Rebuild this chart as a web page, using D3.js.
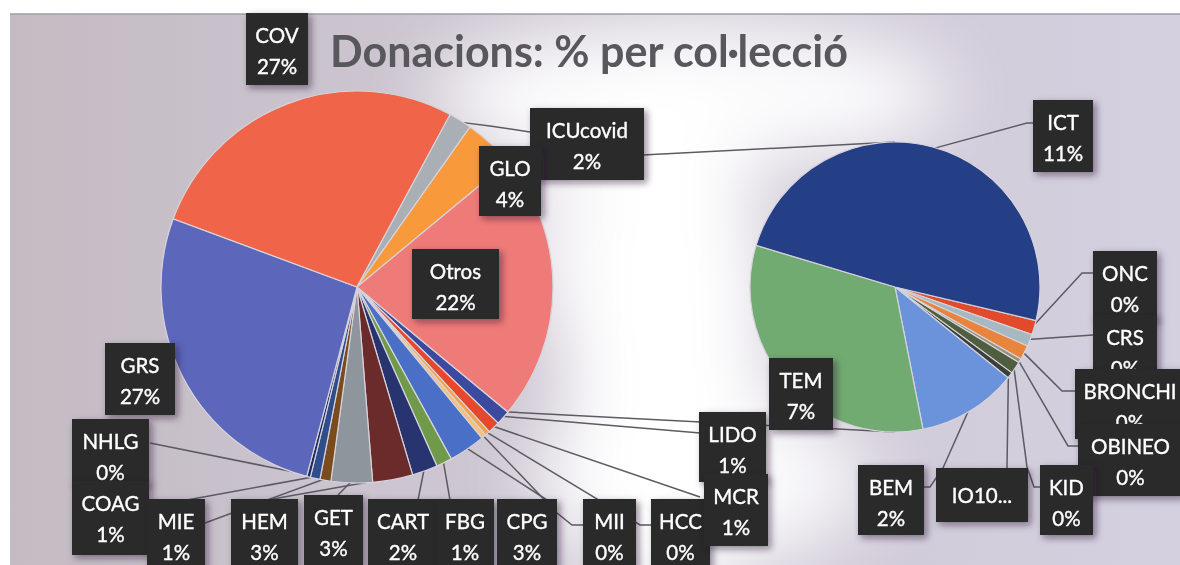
<!DOCTYPE html>
<html>
<head>
<meta charset="utf-8">
<script src="https://cdn.jsdelivr.net/npm/d3@7"></script>
<style>
  html, body { margin: 0; padding: 0; background: #fff; }
  svg { display: block; }
</style>
</head>
<body>
<svg id="chart" width="1180" height="565"></svg>
<script>
// ---- data (percent of all donations) ----
const mainNames  = ["LIDO", "MCR", "HCC", "MII", "CPG", "FBG", "CART", "HEM", "GET", "MIE", "COAG", "NHLG", "GRS", "COV", "ICUcovid", "GLO"];
const mainValues = [1.2, 1.0, 0.4, 0.4, 3.0, 1.3, 2.1, 3.3, 3.4, 0.9, 0.8, 0.3, 26.5, 27.2, 1.9, 4.2];
const mainColors = ["#3b4a9e", "#e5482c", "#f0a24a", "#f6c07a", "#4a6fc7", "#6f9a4a", "#28346f", "#6b2b2b", "#8e959c", "#7a4b1c", "#2f4d8c", "#1d2b5c", "#5c66ba", "#f0654a", "#a9afb5", "#f89a3c"];

const otherLabel = "Otros";
const otherColor = "#ef7b78";

const subNames  = ["ONC", "CRS", "BRONCHI", "OBINEO", "KID", "IO10...", "BEM", "TEM", "ICT"];
const subValues = [0.35, 0.3, 0.35, 0.1, 0.3, 0.15, 2.45, 7.2, 10.8];
const subColors = ["#e24a2c", "#a7b8c2", "#e8843c", "#9a9078", "#4e5e3e", "#3a3f3a", "#6a93dc", "#72ab72", "#243f86"];

const title = "Donacions: % per col\u00b7lecci\u00f3";

// ---- layout ----
const W = 1180, H = 565;
const main = { cx: 357, cy: 287, r: 196 };
const sub  = { cx: 895, cy: 287, r: 145, start: 103.4 * Math.PI / 180 };

// label boxes: [x, y, w, h] and leader points after the rim point
const labelLayout = {
  "COV":      { box: [246, 13, 62, 72] },
  "ICUcovid": { box: [530, 108, 114, 72], leader: [[490, 126], [530, 132]] },
  "GLO":      { box: [479, 146, 62, 70] },
  "Otros":    { box: [412, 249, 87, 70] },
  "GRS":      { box: [105, 343, 70, 72] },
  "NHLG":     { box: [72, 419, 77, 66], leader: [[150, 443]] },
  "COAG":     { box: [72, 481, 77, 74], leader: [[187, 500]] },
  "MIE":      { box: [147, 499, 58, 70], leader: [[232, 513], [205, 523]] },
  "HEM":      { box: [231, 499, 67, 70], leader: [[267, 500]] },
  "GET":      { box: [304, 495, 59, 72], leader: [[338, 495]] },
  "CART":     { box: [368, 499, 70, 70], leader: [[418, 500]] },
  "FBG":      { box: [436, 499, 58, 70], leader: [[450, 500]] },
  "CPG":      { box: [497, 499, 60, 70], leader: [[547, 500]] },
  "MII":      { box: [583, 499, 53, 70], leader: [[557, 513], [572, 525], [583, 525]] },
  "HCC":      { box: [651, 499, 59, 70], leader: [[640, 525], [651, 525]] },
  "LIDO":     { box: [699, 412, 67, 70], leader: [[700, 433]] },
  "MCR":      { box: [704, 474, 64, 72], leader: [[700, 497]] },
  "ICT":      { box: [1033, 100, 60, 72], leader: [[1027, 123], [1033, 123]] },
  "TEM":      { box: [769, 358, 64, 72] },
  "ONC":      { box: [1093, 251, 64, 70], leader: [[1082, 273], [1093, 273]] },
  "CRS":      { box: [1093, 315, 64, 70], leader: [[1093, 335]] },
  "BRONCHI":  { box: [1075, 369, 110, 70], leader: [[1062, 391], [1075, 391]] },
  "OBINEO":   { box: [1078, 424, 105, 72], leader: [[1068, 446], [1078, 446]] },
  "BEM":      { box: [858, 465, 66, 70], leader: [[943, 468], [930, 487], [924, 487]] },
  "IO10...":  { box: [936, 468, 92, 54], leader: [[1007, 468]], single: true },
  "KID":      { box: [1040, 465, 53, 70], leader: [[1027, 467], [1034, 487], [1040, 487]] }
};

const svg = d3.select("#chart");
const defs = svg.append("defs");

// ---- background (photographed slide) ----
const bg = defs.append("linearGradient").attr("id", "bgGrad").attr("x1", 0).attr("x2", 1).attr("y1", 0).attr("y2", 0);
bg.append("stop").attr("offset", "0%").attr("stop-color", "#c4bbc3");
bg.append("stop").attr("offset", "35%").attr("stop-color", "#cdc6d1");
bg.append("stop").attr("offset", "100%").attr("stop-color", "#d4d0df");

defs.append("filter").attr("id", "glowBlur")
  .attr("x", "-50%").attr("y", "-50%").attr("width", "200%").attr("height", "200%")
  .append("feGaussianBlur").attr("stdDeviation", 36);

defs.append("clipPath").attr("id", "slideClip")
  .append("rect").attr("x", 10).attr("y", 14).attr("width", W - 10).attr("height", H - 14);

const shadow = defs.append("filter").attr("id", "boxShadow")
  .attr("x", "-30%").attr("y", "-30%").attr("width", "160%").attr("height", "160%");
shadow.append("feDropShadow")
  .attr("dx", 3).attr("dy", 3).attr("stdDeviation", 3.5)
  .attr("flood-color", "#2a1430").attr("flood-opacity", 0.5);

svg.append("rect").attr("width", W).attr("height", H).attr("fill", "#ffffff");

const slide = svg.append("g").attr("clip-path", "url(#slideClip)");
slide.append("rect").attr("x", 10).attr("y", 14).attr("width", W - 10).attr("height", H - 14)
  .attr("fill", "url(#bgGrad)");

const glows = [
  { cx: 665, cy: 340, rx: 100, ry: 280, o: 1 },
  { cx: 690, cy: 95, rx: 260, ry: 70, o: 0.95 },
  { cx: 700, cy: 480, rx: 170, ry: 90, o: 0.85 },
  { cx: 565, cy: 210, rx: 60, ry: 120, o: 0.6 }
];
slide.append("g").attr("filter", "url(#glowBlur)")
  .selectAll("ellipse").data(glows).join("ellipse")
  .attr("cx", d => d.cx).attr("cy", d => d.cy)
  .attr("rx", d => d.rx).attr("ry", d => d.ry)
  .attr("fill", "#ffffff").attr("opacity", d => d.o);

svg.append("line").attr("x1", 10).attr("x2", W).attr("y1", 14).attr("y2", 14)
  .attr("stroke", "#a09ca6").attr("stroke-width", 1.5);

// ---- pie layouts ----
const mainData = mainNames.map((n, i) => ({ name: n, value: mainValues[i], color: mainColors[i] }));
const otherTotal = d3.sum(subValues);
mainData.push({ name: otherLabel, value: otherTotal, color: otherColor });
const total = d3.sum(mainData, d => d.value);

const otherAngle = otherTotal / total * 2 * Math.PI;
const mainStart = Math.PI / 2 + otherAngle / 2;

const mainPie = d3.pie().sort(null).value(d => d.value)
  .startAngle(mainStart).endAngle(mainStart + 2 * Math.PI);
const mainArcs = mainPie(mainData);

const subData = subNames.map((n, i) => ({ name: n, value: subValues[i], color: subColors[i] }));
const subPie = d3.pie().sort(null).value(d => d.value)
  .startAngle(sub.start).endAngle(sub.start + 2 * Math.PI);
const subArcs = subPie(subData);

const pct = v => Math.round(v / total * 100) + "%";
const polar = (c, a) => [c.cx + c.r * Math.sin(a), c.cy - c.r * Math.cos(a)];

// ---- connectors between pies ----
const otherArc = mainArcs[mainArcs.length - 1];
const connectors = [
  [polar(main, otherArc.startAngle), [sub.cx, sub.cy - sub.r]],
  [polar(main, otherArc.endAngle), [sub.cx, sub.cy + sub.r]]
];
svg.append("g").selectAll("line").data(connectors).join("line")
  .attr("x1", d => d[0][0]).attr("y1", d => d[0][1])
  .attr("x2", d => d[1][0]).attr("y2", d => d[1][1])
  .attr("stroke", "#5c5a62").attr("stroke-width", 1.5);

// ---- leader lines ----
const leaderGroup = svg.append("g").attr("fill", "none")
  .attr("stroke", "#5c5a62").attr("stroke-width", 1.5);

function drawLeaders(arcs, c) {
  const rim = d3.arc().innerRadius(c.r - 2).outerRadius(c.r - 2);
  arcs.forEach(a => {
    const lay = labelLayout[a.data.name];
    if (!lay || !lay.leader) return;
    const p = rim.centroid(a);
    const pts = [[c.cx + p[0], c.cy + p[1]]].concat(lay.leader);
    leaderGroup.append("path").attr("d", d3.line()(pts));
  });
}
drawLeaders(mainArcs, main);
drawLeaders(subArcs, sub);

// ---- pies ----
function drawPie(arcs, c, cls) {
  const arc = d3.arc().innerRadius(0).outerRadius(c.r);
  svg.append("g").attr("class", cls)
    .attr("transform", `translate(${c.cx},${c.cy})`)
    .selectAll("path").data(arcs).join("path")
    .attr("d", arc)
    .attr("fill", d => d.data.color)
    .attr("stroke", "#d6d3dc").attr("stroke-width", 1.2);
}
drawPie(mainArcs, main, "main-pie");
drawPie(subArcs, sub, "sub-pie");

// ---- title ----
svg.append("text")
  .attr("x", 330).attr("y", 67)
  .attr("textLength", 518).attr("lengthAdjust", "spacingAndGlyphs")
  .attr("font-family", "Lato, 'Open Sans', sans-serif")
  .attr("font-weight", 700).attr("font-size", 43)
  .attr("fill", "#58575c")
  .text(title);

// ---- data labels ----
const labelOrder = ["COV", "ICUcovid", "GLO", "Otros", "GRS", "NHLG", "COAG", "MIE", "HEM", "GET", "CART", "FBG", "CPG", "MII", "HCC",
  "LIDO", "MCR", "ICT", "TEM", "ONC", "CRS", "BRONCHI", "OBINEO", "BEM", "IO10...", "KID"];
const valueByName = {};
mainData.forEach(d => valueByName[d.name] = d.value);
subData.forEach(d => valueByName[d.name] = d.value);

const labelGroup = svg.append("g")
  .attr("font-family", "Lato, 'Open Sans', sans-serif").attr("font-size", 20.5);

labelOrder.forEach(name => {
  const lay = labelLayout[name];
  const [x, y, w, h] = lay.box;
  const g = labelGroup.append("g");
  g.append("rect").attr("x", x).attr("y", y).attr("width", w).attr("height", h)
    .attr("fill", "#2a2a2c").attr("filter", "url(#boxShadow)");
  const lines = lay.single ? [name] : [name, pct(valueByName[name])];
  const ys = lay.single ? [y + h / 2] : [y + 22, y + 53];
  lines.forEach((t, i) => {
    g.append("text").attr("x", x + w / 2).attr("y", ys[i])
      .attr("text-anchor", "middle").attr("dominant-baseline", "central")
      .attr("fill", "#ffffff")
      .attr("stroke", "#ffffff").attr("stroke-width", 0.35)
      .text(t);
  });
});
</script>
</body>
</html>
